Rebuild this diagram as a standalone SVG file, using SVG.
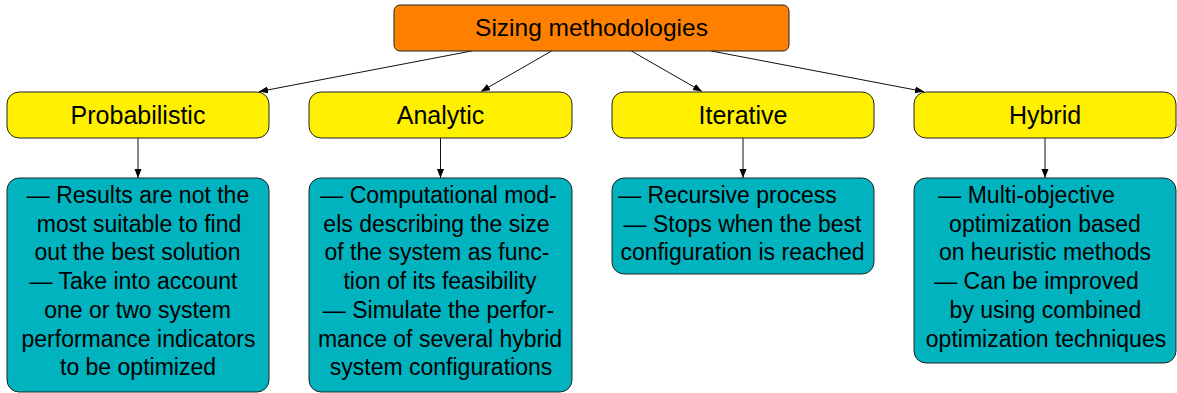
<svg xmlns="http://www.w3.org/2000/svg" width="1177" height="393" viewBox="0 0 1177 393">
<defs>
<style>
.root{fill:#FF8000;stroke:#222;stroke-width:1}
.cat{fill:#FFF000;stroke:#222;stroke-width:1}
.desc{fill:#00B3BE;stroke:#222;stroke-width:1}
.t{font-family:"Liberation Sans",Arial,sans-serif;fill:#000;text-anchor:middle}
.title{font-size:25px}
.body{font-size:23px}
.edge{stroke:#111;stroke-width:1;fill:none;marker-end:url(#ah)}
</style>
<marker id="ah" markerUnits="userSpaceOnUse" markerWidth="10" markerHeight="8" refX="9" refY="3.5" orient="auto">
<path d="M0,0 L9,3.5 L0,7 z" fill="#000"/>
</marker>
</defs>
<g id="connectors">
<line class="edge" x1="471.6" y1="51" x2="259" y2="91.6"/>
<line class="edge" x1="551.6" y1="51" x2="481" y2="91.5"/>
<line class="edge" x1="631.4" y1="51" x2="702" y2="91.5"/>
<line class="edge" x1="711.3" y1="51" x2="924" y2="91.6"/>
<line class="edge" x1="138" y1="138" x2="138" y2="178"/>
<line class="edge" x1="440.5" y1="138" x2="440.5" y2="178"/>
<line class="edge" x1="743" y1="138" x2="743" y2="178"/>
<line class="edge" x1="1045" y1="138" x2="1045" y2="178"/>
</g>
<g id="root">
<rect class="root" x="394" y="5" width="395" height="46" rx="6"/>
<text class="t" style="font-size:24.5px" x="591.5" y="36">Sizing methodologies</text>
</g>
<g id="probabilistic">
<rect class="cat" x="7" y="92" width="262" height="46" rx="12"/>
<text class="t title" x="138" y="124">Probabilistic</text>
</g>
<g id="analytic">
<rect class="cat" x="309" y="92" width="263" height="46" rx="12"/>
<text class="t title" x="440.5" y="124">Analytic</text>
</g>
<g id="iterative">
<rect class="cat" x="612" y="92" width="262" height="46" rx="12"/>
<text class="t title" x="743" y="124">Iterative</text>
</g>
<g id="hybrid">
<rect class="cat" x="914" y="92" width="262" height="46" rx="12"/>
<text class="t title" x="1045" y="124">Hybrid</text>
</g>
<g id="probabilistic-desc">
<rect class="desc" x="7" y="178" width="262" height="214" rx="12"/>
<text class="t body" x="138" y="203">— Results are not the</text>
<text class="t body" x="139" y="231.7">most suitable to find</text>
<text class="t body" x="137.5" y="260.4">out the best solution</text>
<text class="t body" x="133.5" y="289.1">— Take into account</text>
<text class="t body" x="137.5" y="317.8">one or two system</text>
<text class="t body" x="138.5" y="346.5">performance indicators</text>
<text class="t body" x="138" y="375.2">to be optimized</text>
</g>
<g id="analytic-desc">
<rect class="desc" x="309" y="178" width="263" height="214" rx="12"/>
<text class="t body" x="438.5" y="203">— Computational mod-</text>
<text class="t body" x="436.5" y="231.7">els describing the size</text>
<text class="t body" x="437" y="260.4">of the system as func-</text>
<text class="t body" x="440" y="289.1">tion of its feasibility</text>
<text class="t body" x="438.5" y="317.8">— Simulate the perfor-</text>
<text class="t body" x="440" y="346.5">mance of several hybrid</text>
<text class="t body" x="441" y="375.2">system configurations</text>
</g>
<g id="iterative-desc">
<rect class="desc" x="612" y="178" width="262" height="96" rx="12"/>
<text class="t body" x="727.5" y="203">— Recursive process</text>
<text class="t body" x="742.5" y="231.7">— Stops when the best</text>
<text class="t body" x="742.5" y="260.4">configuration is reached</text>
</g>
<g id="hybrid-desc">
<rect class="desc" x="914" y="178" width="262" height="185" rx="12"/>
<text class="t body" x="1026.5" y="203">— Multi-objective</text>
<text class="t body" x="1045" y="231.7">optimization based</text>
<text class="t body" x="1045" y="260.4">on heuristic methods</text>
<text class="t body" x="1036.5" y="289.1">— Can be improved</text>
<text class="t body" x="1045.5" y="317.8">by using combined</text>
<text class="t body" x="1046" y="346.5">optimization techniques</text>
</g>
</svg>
